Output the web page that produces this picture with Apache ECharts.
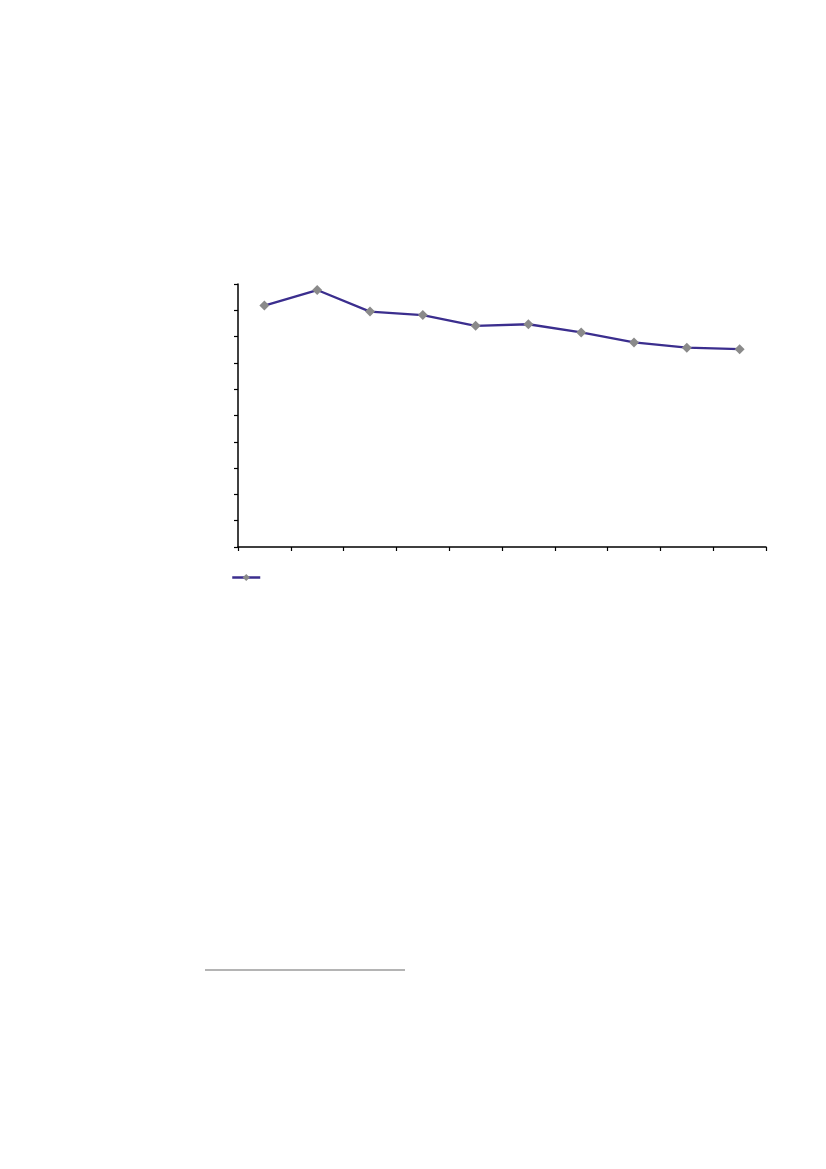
<!DOCTYPE html>
<html>
<head>
<meta charset="utf-8">
<script src="https://cdn.jsdelivr.net/npm/echarts@6/dist/echarts.min.js"></script>
<style>
html,body{margin:0;padding:0;background:#fff;}
#chart{width:826px;height:1169px;}
</style>
</head>
<body>
<div id="chart"></div>
<script>
const categories = ['1','2','3','4','5','6','7','8','9','10'];
const seriesValues = [9.18, 9.77, 8.95, 8.82, 8.41, 8.47, 8.16, 7.78, 7.58, 7.52];
const yTicks = [0,1,2,3,4,5,6,7,8,9,10];

const chart = echarts.init(document.getElementById('chart'), null, {renderer:'canvas'});
chart.setOption({
  animation: false,
  backgroundColor: '#ffffff',
  grid: {left: 238, top: 284, right: 60, bottom: 622, containLabel: false},
  legend: {
    show: true,
    left: 226,
    top: 568,
    itemWidth: 28,
    itemHeight: 9,
    itemGap: 0,
    formatter: function(){ return ''; },
    itemStyle: {color: '#8a8a8a', borderWidth: 0},
    lineStyle: {color: '#3b2e8e', width: 2.5},
    data: [' ']
  },
  xAxis: {
    type: 'category',
    data: categories,
    boundaryGap: true,
    axisLine: {show: true, lineStyle: {color: '#000', width: 1.5}},
    axisTick: {show: true, inside: false, length: 4, lineStyle: {color: '#000', width: 1.2}},
    axisLabel: {show: false},
    splitLine: {show: false}
  },
  yAxis: {
    type: 'value',
    min: yTicks[0],
    max: yTicks[yTicks.length-1],
    interval: 1,
    axisLine: {show: true, lineStyle: {color: '#000', width: 1.5}},
    axisTick: {show: true, inside: false, length: 4, lineStyle: {color: '#000', width: 1.2}},
    axisLabel: {show: false},
    splitLine: {show: false}
  },
  series: [{
    name: ' ',
    type: 'line',
    data: seriesValues,
    symbol: 'diamond',
    symbolSize: 10,
    lineStyle: {color: '#3b2e8e', width: 2.3},
    itemStyle: {color: '#8a8a8a', borderWidth: 0},
    z: 3
  }],
  graphic: [
    {type: 'line', shape: {x1: 205, y1: 970, x2: 405, y2: 970}, style: {stroke: '#6a6a6a', lineWidth: 1.2}}
  ]
});
</script>
</body>
</html>
